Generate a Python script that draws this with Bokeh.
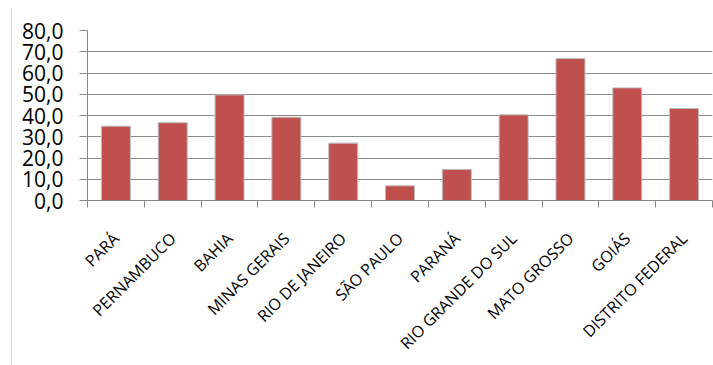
from bokeh.plotting import figure
from bokeh.models import FixedTicker, Range1d, Div, ColumnDataSource
from bokeh.layouts import row
from bokeh.embed import file_html
from bokeh.resources import INLINE

# Brazilian states and their values
states = ["PARÁ", "PERNAMBUCO", "BAHIA", "MINAS GERAIS", "RIO DE JANEIRO",
          "SÃO PAULO", "PARANÁ", "RIO GRANDE DO SUL", "MATO GROSSO",
          "GOIÁS", "DISTRITO FEDERAL"]
values = [35.0, 36.6, 49.7, 39.2, 27.0, 6.9, 14.6, 40.3, 66.8, 53.0, 43.3]

# y axis ticks, shown with a decimal comma
y_ticks = [0, 10, 20, 30, 40, 50, 60, 70, 80]
y_labels = [f"{t:.1f}".replace(".", ",") for t in y_ticks]

n = len(states)
centers = [i + 0.5 for i in range(n)]
bounds = [i for i in range(n + 1)]

source = ColumnDataSource(data=dict(x=centers, top=values, state=states))

p = figure(width=700, height=365, output_backend="svg", toolbar_location=None,
           x_range=Range1d(0, n), y_range=Range1d(0, 80),
           min_border_left=74, min_border_right=1,
           min_border_top=30, min_border_bottom=165)
p.outline_line_color = None
p.background_fill_color = "white"
p.border_fill_color = "white"

p.vbar(x="x", top="top", width=0.51, source=source,
       fill_color="#C0504D", line_color="#BDBDBD", line_width=1)

# category axis: names at the centres, ticks at the boundaries
xa = p.xaxis[0]
xa.ticker = FixedTicker(ticks=centers, minor_ticks=bounds)
xa.major_label_overrides = {c: s for c, s in zip(centers, states)}
xa.major_label_orientation = 0.785398
xa.major_label_text_font = "Open Sans"
xa.major_label_text_font_size = "16px"
xa.major_label_text_color = "#000000"
xa.major_tick_line_color = None
xa.major_tick_in = 0
xa.major_tick_out = 0
xa.minor_tick_in = 0
xa.minor_tick_out = 7
xa.minor_tick_line_color = "#868686"
xa.axis_line_color = "#868686"
xa.major_label_standoff = 28

ya = p.yaxis[0]
ya.ticker = FixedTicker(ticks=y_ticks)
ya.major_label_overrides = {t: s for t, s in zip(y_ticks, y_labels)}
ya.major_label_text_font = "Open Sans"
ya.major_label_text_font_size = "21px"
ya.major_label_text_color = "#000000"
ya.major_tick_in = 0
ya.major_tick_out = 8
ya.major_tick_line_color = "#868686"
ya.minor_tick_line_color = None
ya.axis_line_color = "#868686"
ya.major_label_standoff = 16

p.xgrid.visible = False
p.ygrid.ticker = FixedTicker(ticks=y_ticks)
p.ygrid.grid_line_color = "#8C8C8C"
p.ygrid.grid_line_width = 1

edge = Div(width=13, height=365, margin=0,
           text='<div style="margin:8px 0 0 11px;width:1px;height:357px;background:#D4D4D4"></div>')

layout = row(edge, p, spacing=0)
open("out.html", "w").write(file_html(layout, INLINE))
